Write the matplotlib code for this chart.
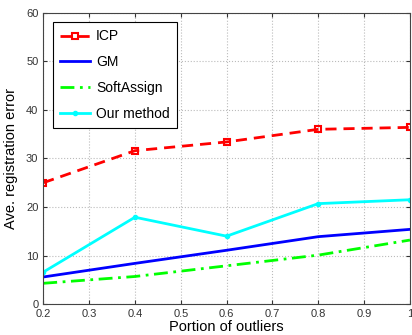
import matplotlib
matplotlib.use("Agg")
import matplotlib.pyplot as plt

plt.rcParams['font.family'] = ['Liberation Sans', 'DejaVu Sans']

x = [0.2, 0.4, 0.6, 0.8, 1.0]
icp = [25.0, 31.6, 33.4, 36.0, 36.4]
gm = [5.6, 8.4, 11.1, 13.9, 15.4]
softassign = [4.3, 5.7, 7.9, 10.1, 13.2]
ours = [6.6, 17.9, 14.0, 20.7, 21.5]

fig = plt.figure(figsize=(4.12, 3.35), dpi=100)
ax = fig.add_axes([0.105, 0.092, 0.89, 0.87])

ax.plot(x, icp, color='red', ls=(0, (4, 2.5)), lw=2, marker='s', ms=5, mfc='none', mew=1.5, label='ICP')
ax.plot(x, gm, color='blue', ls='-', lw=2, label='GM')
ax.plot(x, softassign, color='#00ff00', ls=(0, (5, 2, 1, 2)), lw=2, label='SoftAssign')
ax.plot(x, ours, color='cyan', ls='-', lw=2, marker='.', ms=6, label='Our method')

ax.set_xlim(0.2, 1.0)
ax.set_ylim(0, 60)
ax.set_xticks([0.2, 0.3, 0.4, 0.5, 0.6, 0.7, 0.8, 0.9, 1.0])
ax.set_xticklabels(['0.2', '0.3', '0.4', '0.5', '0.6', '0.7', '0.8', '0.9', '1'])
ax.set_yticks(range(0, 61, 10))
ax.tick_params(direction='in', top=True, right=True, labelsize=8, colors='#333333', length=3)
ax.grid(True, ls=':', color='#bbbbbb', lw=0.8)
for s in ax.spines.values():
    s.set_color('#444444')

ax.set_xlabel('Portion of outliers', fontsize=10.5, labelpad=1)
ax.set_ylabel('Ave. registration error', fontsize=10.5, labelpad=6)

leg = ax.legend(loc='upper left', fontsize=10, fancybox=False, edgecolor='black',
                framealpha=1, handlelength=2.2, handletextpad=0.4, borderaxespad=0.7,
                labelspacing=0.85, borderpad=0.5)
leg.get_frame().set_linewidth(0.8)

fig.savefig('out.png', dpi=100)
